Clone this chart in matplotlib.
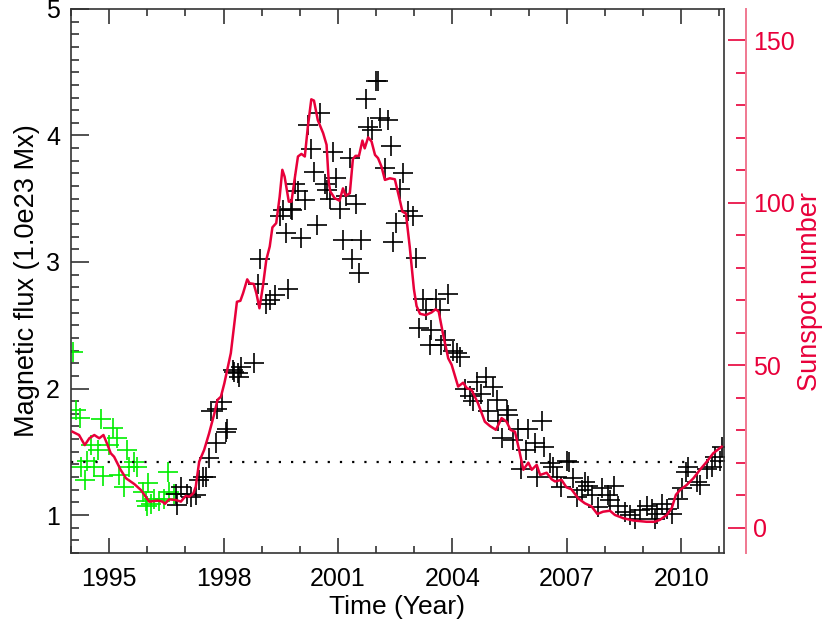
import matplotlib
matplotlib.use("Agg")
import matplotlib.pyplot as plt
import numpy as np
from matplotlib.ticker import MultipleLocator

plt.rcParams['font.family'] = ['Liberation Sans', 'DejaVu Sans']

# early (green) magnetic flux samples, 1e23 Mx
green_year = [1994.04, 1994.12, 1994.24, 1994.27, 1994.36, 1994.43, 1994.52, 1994.61,
              1994.71, 1994.78, 1994.85, 1995.00, 1995.11, 1995.20, 1995.26, 1995.38,
              1995.46, 1995.52, 1995.66, 1995.74, 1995.90, 1995.96, 1996.00, 1996.02,
              1996.09, 1996.18, 1996.31, 1996.43, 1996.53, 1996.57, 1996.69]
green_flux = [2.29, 1.83, 1.77, 1.38, 1.28, 1.43, 1.55, 1.38,
              1.51, 1.76, 1.31, 1.55, 1.69, 1.61, 1.32, 1.22,
              1.51, 1.38, 1.42, 1.38, 1.18, 1.11, 1.07, 1.25,
              1.09, 1.13, 1.11, 1.13, 1.34, 1.18, 1.17]

# later (black) magnetic flux samples
black_year = [1996.75, 1996.79, 1996.88, 1997.05, 1997.14, 1997.27, 1997.36, 1997.45,
              1997.54, 1997.62, 1997.67, 1997.80, 1997.82, 1997.95, 1998.06, 1998.10,
              1998.24, 1998.28, 1998.37, 1998.41, 1998.46, 1998.81, 1998.90, 1998.95,
              1999.12, 1999.23, 1999.36, 1999.47, 1999.56, 1999.63, 1999.69, 1999.78,
              1999.80, 1999.86, 1999.95, 2000.04, 2000.13, 2000.21, 2000.30, 2000.36,
              2000.45, 2000.52, 2000.65, 2000.70, 2000.78, 2000.87, 2000.96, 2001.04,
              2001.13, 2001.22, 2001.31, 2001.38, 2001.48, 2001.55, 2001.61, 2001.73,
              2001.79, 2001.88, 2001.99, 2002.05, 2002.11, 2002.23, 2002.31, 2002.38,
              2002.44, 2002.53, 2002.62, 2002.71, 2002.84, 2002.97, 2003.04, 2003.13,
              2003.23, 2003.30, 2003.41, 2003.45, 2003.56, 2003.67, 2003.71, 2003.80,
              2003.89, 2004.02, 2004.11, 2004.19, 2004.33, 2004.46, 2004.54, 2004.65,
              2004.76, 2004.88, 2004.94, 2005.07, 2005.16, 2005.20, 2005.29, 2005.42,
              2005.46, 2005.59, 2005.72, 2005.81, 2005.94, 2005.99, 2006.16, 2006.21,
              2006.34, 2006.40, 2006.56, 2006.64, 2006.73, 2006.86, 2007.00, 2007.06,
              2007.17, 2007.26, 2007.39, 2007.47, 2007.56, 2007.65, 2007.82, 2007.91,
              2008.09, 2008.13, 2008.24, 2008.35, 2008.53, 2008.66, 2008.79, 2008.92,
              2009.09, 2009.23, 2009.31, 2009.36, 2009.49, 2009.62, 2009.75, 2009.92,
              2010.01, 2010.13, 2010.19, 2010.41, 2010.49, 2010.67, 2010.80, 2010.89,
              2011.02, 2011.06]
black_flux = [1.17, 1.08, 1.22, 1.17, 1.14, 1.16, 1.28, 1.30,
              1.30, 1.45, 1.82, 1.57, 1.84, 1.89, 1.66, 1.68,
              2.15, 2.13, 2.12, 2.09, 2.17, 2.20, 2.83, 3.02,
              2.67, 2.70, 2.74, 3.36, 3.41, 3.23, 2.79, 3.42,
              3.41, 3.62, 3.56, 3.19, 3.49, 4.08, 3.89, 3.71,
              3.29, 4.18, 3.62, 3.57, 3.50, 3.87, 3.66, 3.42,
              3.17, 3.52, 3.82, 3.02, 3.46, 2.91, 3.17, 4.29,
              4.07, 4.04, 4.43, 4.43, 4.14, 3.74, 4.12, 3.92,
              3.16, 3.31, 3.58, 3.70, 3.40, 3.36, 3.03, 2.48,
              2.71, 2.62, 2.34, 2.46, 2.71, 2.62, 2.34, 2.38,
              2.75, 2.30, 2.28, 2.25, 2.00, 1.94, 1.90, 2.05,
              1.96, 2.09, 1.82, 2.01, 1.91, 1.74, 1.61, 1.83,
              1.79, 1.59, 1.68, 1.36, 1.51, 1.68, 1.57, 1.30,
              1.74, 1.54, 1.41, 1.38, 1.30, 1.22, 1.43, 1.42,
              1.29, 1.14, 1.20, 1.26, 1.23, 1.16, 1.06, 1.21,
              1.16, 1.12, 1.23, 1.07, 1.02, 1.00, 0.97, 1.04,
              1.07, 1.05, 0.97, 1.01, 1.09, 1.05, 1.01, 1.13,
              1.21, 1.34, 1.38, 1.26, 1.24, 1.36, 1.38, 1.46,
              1.43, 1.54]

# smoothed sunspot number
ssn_year = [1994.04, 1994.21, 1994.36, 1994.48, 1994.61, 1994.74, 1994.85, 1994.96,
            1995.04, 1995.13, 1995.30, 1995.44, 1995.66, 1995.83, 1995.99, 1996.05,
            1996.27, 1996.40, 1996.46, 1996.57, 1996.75, 1996.88, 1997.01, 1997.10,
            1997.21, 1997.27, 1997.36, 1997.49, 1997.62, 1997.76, 1997.84, 1997.93,
            1998.02, 1998.19, 1998.35, 1998.44, 1998.51, 1998.62, 1998.68, 1998.79,
            1998.86, 1998.94, 1999.03, 1999.12, 1999.21, 1999.28, 1999.38, 1999.47,
            1999.54, 1999.60, 1999.71, 1999.78, 1999.86, 1999.95, 2000.04, 2000.13,
            2000.21, 2000.30, 2000.37, 2000.47, 2000.61, 2000.70, 2000.76, 2000.80,
            2000.91, 2001.04, 2001.13, 2001.20, 2001.31, 2001.39, 2001.46, 2001.55,
            2001.64, 2001.70, 2001.79, 2001.88, 2001.97, 2002.05, 2002.14, 2002.23,
            2002.36, 2002.49, 2002.62, 2002.69, 2002.78, 2002.88, 2002.99, 2003.06,
            2003.15, 2003.30, 2003.45, 2003.56, 2003.64, 2003.75, 2003.89, 2003.98,
            2004.15, 2004.28, 2004.38, 2004.50, 2004.67, 2004.85, 2004.98, 2005.14,
            2005.29, 2005.42, 2005.52, 2005.64, 2005.75, 2005.86, 2005.99, 2006.08,
            2006.21, 2006.30, 2006.47, 2006.60, 2006.69, 2006.86, 2006.99, 2007.12,
            2007.30, 2007.47, 2007.65, 2007.80, 2007.95, 2008.13, 2008.26, 2008.48,
            2008.74, 2009.09, 2009.31, 2009.44, 2009.62, 2009.75, 2009.86, 2009.97,
            2010.14, 2010.32, 2010.49, 2010.67, 2010.84, 2010.97, 2011.06]
ssn = [29.5, 28.5, 25.4, 27.5, 28.5, 27.5, 28.5, 25.4,
       22.9, 21.8, 17.8, 15.2, 13.4, 11.6, 9.0, 8.0,
       8.3, 8.0, 7.3, 8.7, 8.5, 8.0, 9.8, 9.5,
       10.6, 12.6, 20.3, 23.9, 29.0, 35.2, 39.3, 40.3,
       44.4, 53.7, 69.5, 69.8, 72.1, 76.4, 75.2, 75.0,
       72.1, 67.5, 74.2, 82.4, 86.5, 92.4, 93.7, 101.8,
       110.1, 108.0, 100.3, 100.3, 107.0, 114.2, 115.0, 114.2,
       123.4, 131.8, 131.4, 125.4, 121.4, 117.8, 106.0, 103.4,
       101.4, 100.6, 104.4, 102.1, 102.9, 113.4, 114.4, 114.4,
       119.1, 116.7, 120.1, 118.8, 114.7, 113.7, 111.1, 107.0,
       107.5, 107.2, 100.8, 97.2, 96.7, 86.5, 73.4, 68.2,
       65.8, 65.4, 66.2, 67.2, 66.5, 59.8, 52.1, 50.1,
       43.4, 44.6, 42.9, 42.4, 38.3, 32.6, 31.3, 30.1,
       33.7, 32.6, 30.1, 29.5, 23.9, 17.8, 20.0, 17.8,
       19.3, 16.2, 16.9, 14.9, 14.2, 14.7, 12.4, 11.8,
       9.0, 7.5, 6.5, 4.2, 4.9, 5.2, 3.9, 2.9,
       2.2, 1.8, 1.8, 2.4, 3.9, 6.0, 10.1, 11.6,
       13.1, 15.2, 17.8, 20.3, 22.9, 24.1, 24.9]

ref_level = 1.42
red = '#E8003A'

fig = plt.figure(figsize=(8.24, 6.23), dpi=100)
ax = fig.add_axes([0.0862, 0.1124, 0.7924, 0.8732])

ax.plot(green_year, green_flux, '+', color='#00EE00', markersize=15, mew=1.2)
ax.plot(black_year, black_flux, '+', color='black', markersize=15, mew=1.2)
ax.axhline(ref_level, color='black', linestyle=(0, (1, 4.5)), linewidth=1.6)

ax.set_xlim(1994.0, 2011.12)
ax.set_ylim(0.7, 5.0)
ax.xaxis.set_minor_locator(MultipleLocator(1))
ax.yaxis.set_major_locator(MultipleLocator(1))
ax.yaxis.set_minor_locator(MultipleLocator(0.1))
ax.set_xticks([1995, 1998, 2001, 2004, 2007, 2010])
ax.tick_params(which='both', direction='in', top=True, right=True, labelsize=18,
               color='#333333', width=1.2)
ax.tick_params(axis='y', which='major', length=13, pad=8)
ax.tick_params(axis='y', which='minor', length=6)
ax.tick_params(axis='x', which='major', length=11, pad=10)
ax.tick_params(axis='x', which='minor', length=5)
for s in ax.spines.values():
    s.set_color('#333333')
    s.set_linewidth(1.2)
ax.set_xlabel('Time (Year)', fontsize=19, labelpad=3)
ax.set_ylabel('Magnetic flux (1.0e23 Mx)', fontsize=19.5, labelpad=4)

ax2 = ax.twinx()
ax2.plot(ssn_year, ssn, color=red, linewidth=1.8)
ax2.set_ylim(-7.8, 159.6)
ax2.yaxis.set_major_locator(MultipleLocator(50))
ax2.yaxis.set_minor_locator(MultipleLocator(10))
# offset spine: about 22 px to the right of the frame
ax2.spines['right'].set_position(('outward', 16))
ax2.spines['right'].set_color('#F07890')
ax2.spines['right'].set_linewidth(1.4)
for k in ['left', 'top', 'bottom']:
    ax2.spines[k].set_visible(False)
ax2.tick_params(axis='y', which='both', direction='in', colors=red, labelsize=18,
                labelcolor=red, width=1.2)
ax2.tick_params(axis='y', which='major', length=13, pad=5)
ax2.tick_params(axis='y', which='minor', length=7)
ax2.set_ylabel('Sunspot number', color=red, fontsize=19.5)
ax2.yaxis.set_label_coords(1.112, 0.48)

fig.savefig('out.png', dpi=100)
